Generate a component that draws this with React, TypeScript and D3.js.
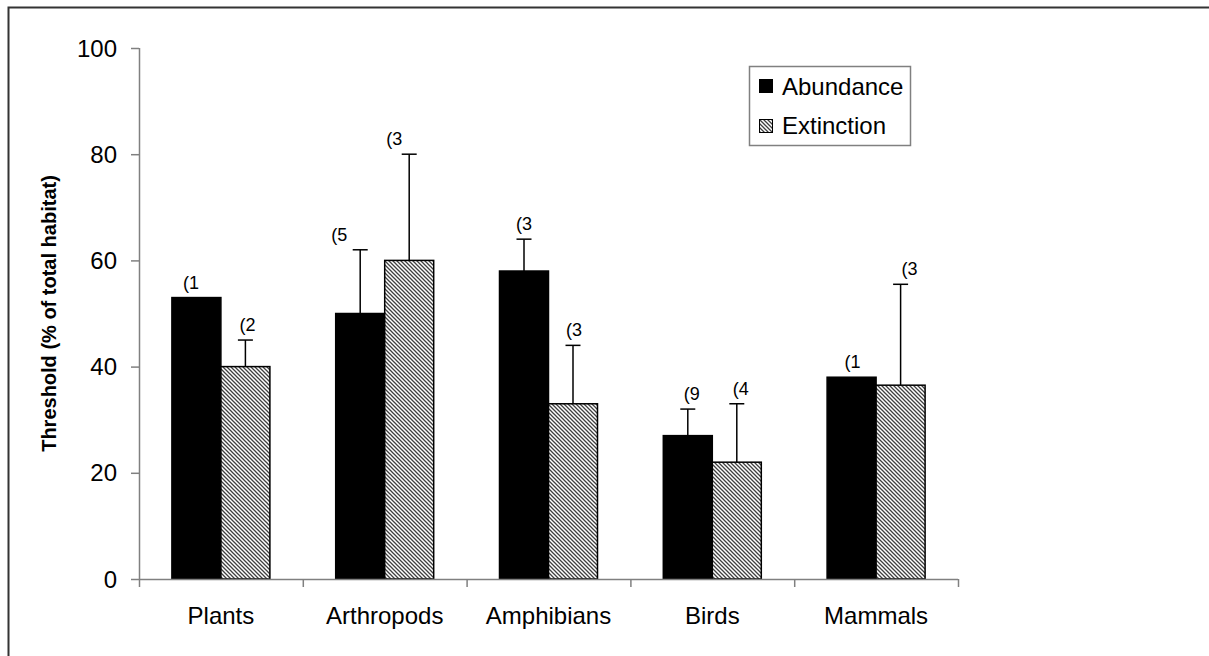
import React from "react";
import * as d3 from "d3";

const categories = ["Plants", "Arthropods", "Amphibians", "Birds", "Mammals"];
const abundance = [53, 50, 58, 27, 38];
const abundanceErr = [0, 12, 6, 5, 0];
const extinction = [40, 60, 33, 22, 36.5];
const extinctionErr = [5, 20, 11, 11, 19];
const abundanceLabels = ["(1", "(5", "(3", "(9", "(1"];
const extinctionLabels = ["(2", "(3", "(3", "(4", "(3"];
const yTicks = [0, 20, 40, 60, 80, 100];
const seriesNames = ["Abundance", "Extinction"];

// small horizontal nudges of the count labels relative to their bar centre
const abundanceLabelNudge = [-13.5, -29, -8, -4, -7];
const extinctionLabelNudge = [-6, -23, -7, -4, 1];

const W = 1209;
const H = 656;
const FONT = "'Liberation Sans', Arial, sans-serif";

export default function App() {
  const x0 = 139, x1 = 958, yTop = 48, yBot = 579;
  const x = d3.scaleBand<string>().domain(categories).range([x0, x1]).paddingInner(0).paddingOuter(0);
  const y = d3.scaleLinear().domain([0, 100]).range([yBot, yTop]);
  const inner = d3.scaleBand<string>().domain(seriesNames).range([0, 98]);
  const groupOffset = (x.bandwidth() - 98) / 2;
  const axisColor = "#808080";

  const series = [
    { name: "Abundance", vals: abundance, errs: abundanceErr, labels: abundanceLabels, fill: "#000", nudge: abundanceLabelNudge },
    { name: "Extinction", vals: extinction, errs: extinctionErr, labels: extinctionLabels, fill: "url(#hatch)", nudge: extinctionLabelNudge },
  ];

  return (
    <svg width={W} height={H} style={{ position: "absolute", left: 0, top: 0, fontFamily: FONT }}>
      <defs>
        <pattern id="hatch" patternUnits="userSpaceOnUse" width="4" height="4">
          <rect width="4" height="4" fill="#fff" />
          <path d="M-1,-1 L5,5 M-1,3 L1,5 M3,-1 L5,1" stroke="#404040" strokeWidth="1.3" />
        </pattern>
      </defs>
      <rect x={0} y={0} width={W} height={H} fill="#fff" />
      <rect x={8.5} y={7.5} width={1400} height={1000} fill="none" stroke="#333" strokeWidth={2} />

      {/* y axis */}
      <line x1={x0 + 0.5} x2={x0 + 0.5} y1={yTop} y2={yBot} stroke={axisColor} strokeWidth={1.5} />
      {yTicks.map((t) => (
        <g key={t}>
          <line x1={x0 - 8} x2={x0} y1={y(t) + 0.5} y2={y(t) + 0.5} stroke={axisColor} strokeWidth={1.5} />
          <text x={117} y={y(t) + 8.5} textAnchor="end" fontSize={24} fill="#000">{t}</text>
        </g>
      ))}
      <text
        transform={`translate(56,${(yTop + yBot) / 2}) rotate(-90)`}
        textAnchor="middle"
        fontSize={20}
        fontWeight="bold"
        fill="#000"
      >
        Threshold (% of total habitat)
      </text>

      {/* bars */}
      {series.map((s) =>
        categories.map((c, i) => {
          const bx = (x(c) ?? 0) + groupOffset + (inner(s.name) ?? 0);
          const bw = inner.bandwidth();
          const v = s.vals[i];
          const e = s.errs[i];
          const cx = bx + bw / 2;
          const top = y(v + e);
          return (
            <g key={s.name + c}>
              <rect x={bx} y={y(v)} width={bw} height={yBot - y(v)} fill={s.fill} stroke="#000" strokeWidth={1.5} />
              {e > 0 && (
                <g stroke="#000" strokeWidth={1.5}>
                  <line x1={cx} x2={cx} y1={y(v)} y2={top} />
                  <line x1={cx - 7.5} x2={cx + 7.5} y1={top} y2={top} />
                </g>
              )}
              <text x={cx + s.nudge[i]} y={top - 9} fontSize={18} fill="#000">{s.labels[i]}</text>
            </g>
          );
        })
      )}

      {/* x axis */}
      <line x1={x0} x2={x1} y1={yBot + 0.5} y2={yBot + 0.5} stroke={axisColor} strokeWidth={1.5} />
      {categories.map((c, i) => (
        <line key={"t" + i} x1={(x(c) ?? 0) + 0.5} x2={(x(c) ?? 0) + 0.5} y1={yBot} y2={yBot + 8} stroke={axisColor} strokeWidth={1.5} />
      ))}
      <line x1={x1 + 0.5} x2={x1 + 0.5} y1={yBot} y2={yBot + 8} stroke={axisColor} strokeWidth={1.5} />
      {categories.map((c) => (
        <text key={"l" + c} x={(x(c) ?? 0) + x.bandwidth() / 2} y={624} textAnchor="middle" fontSize={24} fill="#000">
          {c}
        </text>
      ))}

      {/* legend */}
      <rect x={749.5} y={66.5} width={161} height={79} fill="#fff" stroke="#808080" strokeWidth={1.5} />
      <rect x={759} y={79} width={14} height={14} fill="#000" />
      <text x={782} y={95} fontSize={24} fill="#000">{seriesNames[0]}</text>
      <rect x={759.5} y={119.5} width={13} height={13} fill="url(#hatch)" stroke="#000" strokeWidth={1} />
      <text x={782} y={134} fontSize={24} fill="#000">{seriesNames[1]}</text>
    </svg>
  );
}
